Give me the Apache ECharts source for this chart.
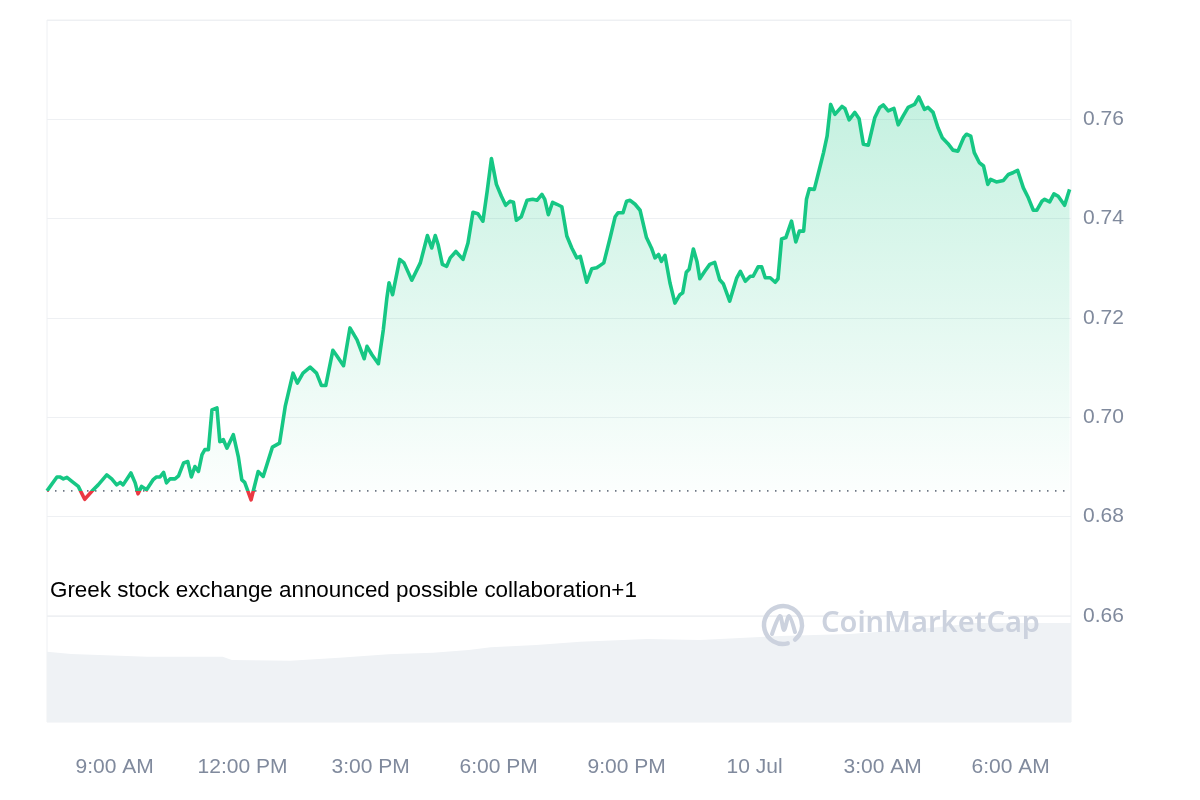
<!DOCTYPE html>
<html>
<head>
<meta charset="utf-8">
<style>
html,body{margin:0;padding:0;background:#fff;}
#chart{width:1200px;height:800px;}
</style>
<script src="https://cdn.jsdelivr.net/npm/echarts@6/dist/echarts.min.js"></script>
</head>
<body>
<div id="chart"></div>
<script>
// Minutes since 00:00 on 9 Jul
const times = [
445,459,463,468,473,480,489,498,508,517,529,536,543,548,552,563,569,573,578,585,594,599,604,609,613,618,625,630,637,643,648,653,658,663,667,672,677,684,688,693,698,707,714,719,723,732,
742,749,762,772,780,791,797,805,815,824,831,837,847,853,862,871,881,891,895,902,911,918,923,926,931,941,947,958,970,
980,986,991,995,1001,1007,1012,1020,1030,1037,1044,1051,1058,1064,1070,1077,1084,1090,1096,1101,1105,1112,1120,1128,1134,1141,1145,1150,1156,1162,1169,1176,1183,1190,1195,1204,1211,1218,1223,1228,1237,1244,1248,1255,1260,1265,1272,1279,1288,1295,1300,1305,1309,1314,1321,1328,1335,1339,1344,1348,1354,1359,1363,1370,1377,1384,1391,1396,1405,1415,1420,1427,1434,1438,1445,1450,1455,1462,1469,1473,1478,1484,1492,1498,1503,
1509,1513,1517,1524,1530,1537,1542,1547,1553,1563,1567,1573,1581,1587,1593,1600,
1609,1616,1621,1628,1636,1642,1649,1656,1665,1671,1679,1684,1691,1698,1704,1712,1719,1726,1734,1738,1744,1749,1756,1762,1768,1772,1780,1790,1797,1804,1810,1818,1825,1832,1837,1844,1848,1855,1861,1867,1876,1883
];
const prices = [
0.6852,0.6880,0.6880,0.6876,0.6879,0.6871,0.6861,0.6835,0.6851,0.6864,0.6884,0.6876,0.6864,0.6869,0.6864,0.6888,0.6868,0.6846,0.6861,0.6854,0.6874,0.6880,0.6880,0.6889,0.6868,0.6876,0.6876,0.6882,0.6908,0.6911,0.6880,0.6901,0.6891,0.6925,0.6935,0.6935,0.7015,0.7019,0.6951,0.6955,0.6938,0.6965,0.6921,0.6874,0.6869,0.6834,
0.6891,0.6881,0.6940,0.6948,0.7022,0.7089,0.7069,0.7089,0.7101,0.7089,0.7064,0.7064,0.7135,0.7123,0.7104,0.7180,0.7156,0.7118,0.7143,0.7126,0.7108,0.7177,0.7241,0.7271,0.7247,0.7318,0.7311,0.7276,0.7311,
0.7366,0.7341,0.7366,0.7348,0.7308,0.7304,0.7321,0.7334,0.7318,0.7351,
0.7413,0.7410,0.7395,0.7455,0.7521,0.7469,0.7445,0.7427,0.7435,0.7433,
0.7397,0.7404,0.7437,0.7439,0.7437,0.7449,0.7439,0.7408,0.7433,0.7429,
0.7424,0.7365,0.7341,0.7321,0.7324,0.7272,0.7299,0.7301,0.7306,0.7311,
0.7362,0.7404,0.7412,0.7412,0.7435,0.7437,0.7429,0.7417,0.7362,0.7341,
0.7321,0.7328,0.7314,0.7326,0.7271,0.7230,0.7247,0.7251,0.7292,0.7298,
0.7339,0.7314,0.7279,0.7294,0.7308,0.7312,0.7277,0.7269,0.7234,0.7281,
0.7294,0.7274,0.7284,0.7284,0.7303,0.7303,0.7281,0.7281,0.7272,0.7279,
0.7359,0.7362,0.7395,0.7353,0.7375,
0.7375,0.7439,0.7460,0.7459,0.7493,0.7533,0.7566,0.7630,0.7610,0.7626,0.7622,0.7599,0.7614,0.7601,0.7550,0.7548,
0.7603,0.7624,0.7629,0.7617,0.7622,0.7589,0.7607,0.7624,0.7630,0.7645,
0.7620,0.7624,0.7614,0.7583,0.7563,0.7551,0.7538,0.7536,0.7563,0.7570,
0.7566,0.7533,0.7513,0.7506,0.7469,0.7479,0.7474,0.7477,0.7489,0.7493,
0.7497,0.7462,0.7442,0.7417,0.7417,0.7435,0.7439,0.7434,0.7450,0.7445,
0.7427,0.7459
];
const baseline = 0.6852;

const volumeTimes = [445,479,586,692,705,787,856,925,988,1038,1069,1133,1195,1289,1363,1476,1574,1687,1750,1841,1885];
const volumes = [70.3,68,65.3,65.3,62,61.3,64.3,67.7,69.3,72,74.7,77,80.3,83,82,86,88,94,99,99,99];

const tickValues = [540,720,900,1080,1260,1440,1620,1800];
const tickLabels = ['9:00 AM','12:00 PM','3:00 PM','6:00 PM','9:00 PM','10 Jul','3:00 AM','6:00 AM'];
const yTicks = [0.66,0.68,0.70,0.72,0.74,0.76];

const annotation = 'Greek stock exchange announced possible collaboration+1';

const FONT = '"Liberation Sans", Arial, Helvetica, sans-serif';
const GRID_LINE = '#eef0f3';
const X_MIN = 445, X_MAX = 1885;

const chart = echarts.init(document.getElementById('chart'));
const priceData = times.map((t, i) => [t, prices[i]]);
const volData = volumeTimes.map((t, i) => [t, volumes[i]]);
const baselineData = [[X_MIN, baseline], [X_MAX, baseline]];

chart.setOption({
  animation: false,
  backgroundColor: '#fff',
  grid: [
    {left: 47, right: 129, top: 20, height: 596, show: true, borderColor: GRID_LINE, borderWidth: 1},
    {left: 47, right: 129, top: 616, height: 106, show: true, borderColor: GRID_LINE, borderWidth: 1}
  ],
  xAxis: [
    {gridIndex: 0, type: 'value', min: X_MIN, max: X_MAX, show: false},
    {gridIndex: 1, type: 'value', min: X_MIN, max: X_MAX,
     axisLine: {show: false}, axisTick: {show: false}, splitLine: {show: false},
     axisLabel: {customValues: tickValues, formatter: v => tickLabels[tickValues.indexOf(v)] || '',
                 color: '#808a9d', fontSize: 21, fontFamily: FONT, margin: 35}}
  ],
  yAxis: [
    {gridIndex: 0, type: 'value', position: 'right', min: 0.66, max: 0.78, interval: 0.02,
     axisLine: {show: false}, axisTick: {show: false},
     splitLine: {show: true, lineStyle: {color: GRID_LINE, width: 1}},
     axisLabel: {color: '#808a9d', fontSize: 21, fontFamily: FONT, margin: 12,
                 formatter: v => yTicks.some(t => Math.abs(t - v) < 1e-6) ? v.toFixed(2) : ''}},
    {gridIndex: 1, type: 'value', min: 0, max: 106, show: false}
  ],
  visualMap: {
    show: false, type: 'piecewise', seriesIndex: 0, dimension: 1,
    pieces: [{gte: 0, lt: baseline, color: '#ea3943'}, {gte: baseline, lte: 1, color: '#16c784'}]
  },
  series: [
    {
      type: 'line', xAxisIndex: 0, yAxisIndex: 0, data: priceData,
      showSymbol: false, symbol: 'none', z: 5, silent: true,
      lineStyle: {width: 3.6, join: 'round'},
      areaStyle: {
        origin: baseline,
        color: new echarts.graphic.LinearGradient(0, 0, 0, 1, [
          {offset: 0, color: 'rgba(22,199,132,0.36)'},
          {offset: 1, color: 'rgba(22,199,132,0.01)'}
        ])
      }
    },
    {
      type: 'line', xAxisIndex: 0, yAxisIndex: 0, data: baselineData,
      showSymbol: false, symbol: 'none', silent: true, z: 4,
      lineStyle: {color: '#6f7684', type: [1.5, 6.5], width: 1.6}
    },
    {
      type: 'line', xAxisIndex: 1, yAxisIndex: 1, data: volData,
      showSymbol: false, symbol: 'none', silent: true, z: 1,
      lineStyle: {width: 0},
      itemStyle: {color: '#eff2f5'},
      areaStyle: {color: '#eff2f5', opacity: 1}
    }
  ],
  graphic: [
    {type: 'text', left: 50, top: 580, z: 10,
     style: {text: annotation, fill: '#000', font: '22.4px ' + FONT}},
    {type: 'arc', z: 10, shape: {cx: 783, cy: 625, r: 19, startAngle: Math.PI * 0.42, endAngle: Math.PI * 0.28 + Math.PI * 2},
     style: {stroke: '#ccd2de', lineWidth: 4.5, fill: null, lineCap: 'round'}},
    {type: 'polyline', z: 10,
     shape: {points: [[772, 634], [780, 616], [784, 630], [789, 616], [795, 632]], smooth: 0.3},
     style: {stroke: '#ccd2de', lineWidth: 4, fill: null, lineCap: 'round', lineJoin: 'round'}},
    {type: 'text', left: 821, top: 609, z: 10,
     style: {text: 'CoinMarketCap', fill: '#ccd2de', font: '600 29px "Noto Sans", Arial, sans-serif'}}
  ]
});
</script>
</body>
</html>
